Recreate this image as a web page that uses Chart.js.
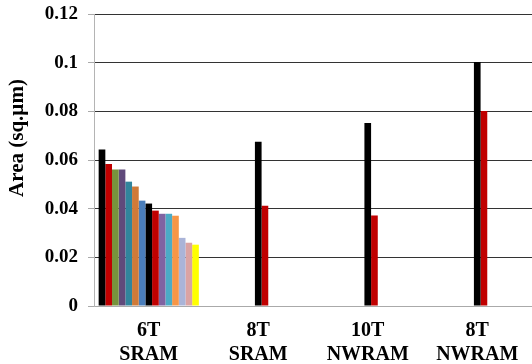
<!DOCTYPE html>
<html lang="en">
<head>
<meta charset="UTF-8">
<title>Area chart</title>
<script src="https://cdn.jsdelivr.net/npm/chart.js"></script>
<style>
  body { margin: 0; background: #fff; }
  #wrap { width: 532px; height: 364px; }
</style>
</head>
<body>
<div id="wrap"><canvas id="areaChart"></canvas></div>
<script>
// categories (two-line labels)
const categories = [['6T', 'SRAM'], ['8T', 'SRAM'], ['10T', 'NWRAM'], ['8T', 'NWRAM']];
const yTicks = [0, 0.02, 0.04, 0.06, 0.08, 0.1, 0.12];

// one value list per series; only series 7 and 8 continue past 6T SRAM
const s0 = [0.0643, null, null, null];
const s1 = [0.0584, null, null, null];
const s2 = [0.0561, null, null, null];
const s3 = [0.0561, null, null, null];
const s4 = [0.0511, null, null, null];
const s5 = [0.0491, null, null, null];
const s6 = [0.0433, null, null, null];
const s7 = [0.0421, 0.0675, 0.0752, 0.1003];
const s8 = [0.0392, 0.0412, 0.0372, 0.0801];
const s9 = [0.0379, null, null, null];
const s10 = [0.0379, null, null, null];
const s11 = [0.0371, null, null, null];
const s12 = [0.0280, null, null, null];
const s13 = [0.0260, null, null, null];
const s14 = [0.0252, null, null, null];

const seriesValues = [s0, s1, s2, s3, s4, s5, s6, s7, s8, s9, s10, s11, s12, s13, s14];
const seriesColors = ['#000000', '#C00000', '#77933C', '#604A7B', '#31859C', '#D07A38', '#4A7EBB',
    '#000000', '#C00000', '#8064A2', '#4BACC6', '#F79646', '#AAB4D8', '#DBA3A3', '#FFFF00'];

const fontFam = '"Liberation Serif", "Times New Roman", serif';

// y title drawn by hand (sits above the plot centre in the original)
const yTitle = {
    id: 'yTitle',
    afterDraw(chart) {
        const c = chart.ctx;
        c.save();
        c.translate(18, 138);
        c.rotate(-Math.PI / 2);
        c.font = 'bold 21px ' + fontFam;
        c.fillStyle = '#000';
        c.textAlign = 'center';
        c.textBaseline = 'middle';
        c.fillText('Area (sq.\u00B5m)', 0, 0);
        c.restore();
    }
};

new Chart(document.getElementById('areaChart'), {
    type: 'bar',
    data: {
        labels: categories,
        datasets: seriesValues.map((vals, i) => ({
            label: 'Series ' + (i + 1),
            data: vals,
            backgroundColor: seriesColors[i],
            borderWidth: 0
        }))
    },
    options: {
        responsive: true,
        maintainAspectRatio: false,
        animation: false,
        layout: { padding: { top: 14, right: 0, left: 0, bottom: 0 } },
        categoryPercentage: 0.915,
        barPercentage: 1.0,
        plugins: {
            legend: { display: false },
            tooltip: { enabled: false }
        },
        scales: {
            x: {
                grid: { display: false, drawTicks: false },
                border: { color: '#aaaaaa', width: 1 },
                ticks: {
                    color: '#000',
                    font: { family: fontFam, size: 20, weight: 'bold', lineHeight: 1.2 },
                    padding: 13,
                    maxRotation: 0,
                    autoSkip: false
                },
                afterFit: (scale) => { scale.height = 58; }
            },
            y: {
                min: 0,
                max: 0.12,
                afterBuildTicks: (scale) => { scale.ticks = yTicks.map(v => ({ value: v })); },
                grid: {
                    color: (ctx) => ctx.tick && ctx.tick.value === 0 ? '#aaaaaa' : '#333333',
                    tickColor: '#aaaaaa',
                    tickLength: 6,
                    lineWidth: 1
                },
                border: { color: '#b4b4b4', width: 1 },
                ticks: {
                    color: '#000',
                    font: { family: fontFam, size: 19, weight: 'bold' },
                    padding: 10,
                    callback: (v) => String(+v.toFixed(2))
                },
                afterFit: (scale) => {
                    scale.width = 94;
                    scale.paddingTop = 0;
                    scale.paddingBottom = 0;
                }
            }
        }
    },
    plugins: [yTitle]
});
</script>
</body>
</html>
